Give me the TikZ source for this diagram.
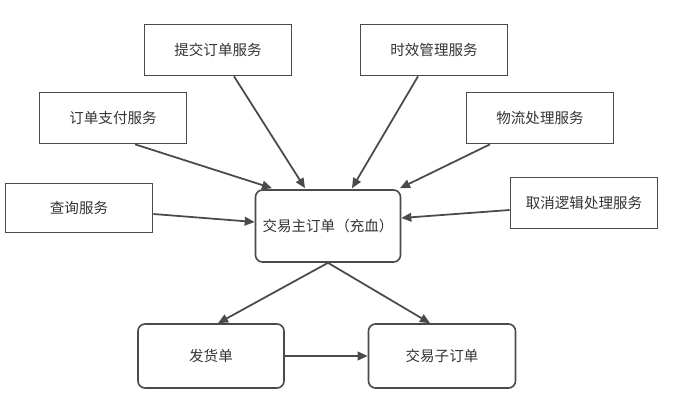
\documentclass[tikz,border=0pt]{standalone}
\usepackage{fontspec}
\setmainfont{Noto Sans CJK SC}
\usetikzlibrary{arrows.meta,positioning,calc}
\definecolor{cline}{HTML}{4A4A4A}
\definecolor{ctext}{HTML}{333333}

\begin{document}
\begin{tikzpicture}[
    x=0.03cm, y=-0.03cm,
    >={Triangle[length=3mm,width=2.6mm]},
    svcbox/.style={
        draw=cline, line width=1.4pt, fill=white,
        minimum width=4.41cm, minimum height=1.53cm,
        text=ctext, font=\fontsize{12.4}{14}\selectfont, inner sep=2pt,
    },
    ordbox/.style={svcbox, rounded corners=6pt, minimum height=1.92cm},
    flow/.style={->, draw=cline, line width=1.5pt},
]
\useasboundingbox (0,0) rectangle (673,413);

% ============================================================
% SERVICES
% ============================================================
\node[svcbox] (submit) at (218,50) {提交订单服务};
\node[svcbox] (timing) at (434,50) {时效管理服务};
\node[svcbox] (pay) at (113,118) {订单支付服务};
\node[svcbox] (logistics) at (540,118) {物流处理服务};
\node[svcbox, minimum height=1.47cm] (query) at (79,208) {查询服务};
\node[svcbox] (cancel) at (584,203) {取消逻辑处理服务};

% ============================================================
% ORDERS
% ============================================================
\node[ordbox, minimum width=4.35cm, minimum height=2.16cm] (main) at (328,226) {交易主订单（充血）};
\node[ordbox, minimum width=4.38cm] (ship) at (211,356) {发货单};
\node[ordbox] (sub) at (442,356) {交易子订单};

% Services -> main order
\draw[flow] ($(submit.south)+(16,0)$) -- ($(main.north)+(-23,-1)$);
\draw[flow] ($(timing.south)+(-16,0)$) -- ($(main.north)+(24,-1)$);
\draw[flow] ($(pay.south)+(22,0)$) -- ($(main.north)+(-56,-1)$);
\draw[flow] ($(logistics.south)+(-50,0)$) -- ($(main.north)+(72,-1)$);
\draw[flow] ($(query.east)+(0,6)$) -- ($(main.west)+(0,-4)$);
\draw[flow] ($(cancel.west)+(0,7)$) -- ($(main.east)+(0,-8)$);

% Main order -> shipping / sub order
\draw[flow] (main.south) -- ($(ship.north)+(7,0)$);
\draw[flow] (main.south) -- ($(sub.north)+(-12,0)$);
\draw[flow] (ship.east) -- (sub.west);

\end{tikzpicture}
\end{document}
